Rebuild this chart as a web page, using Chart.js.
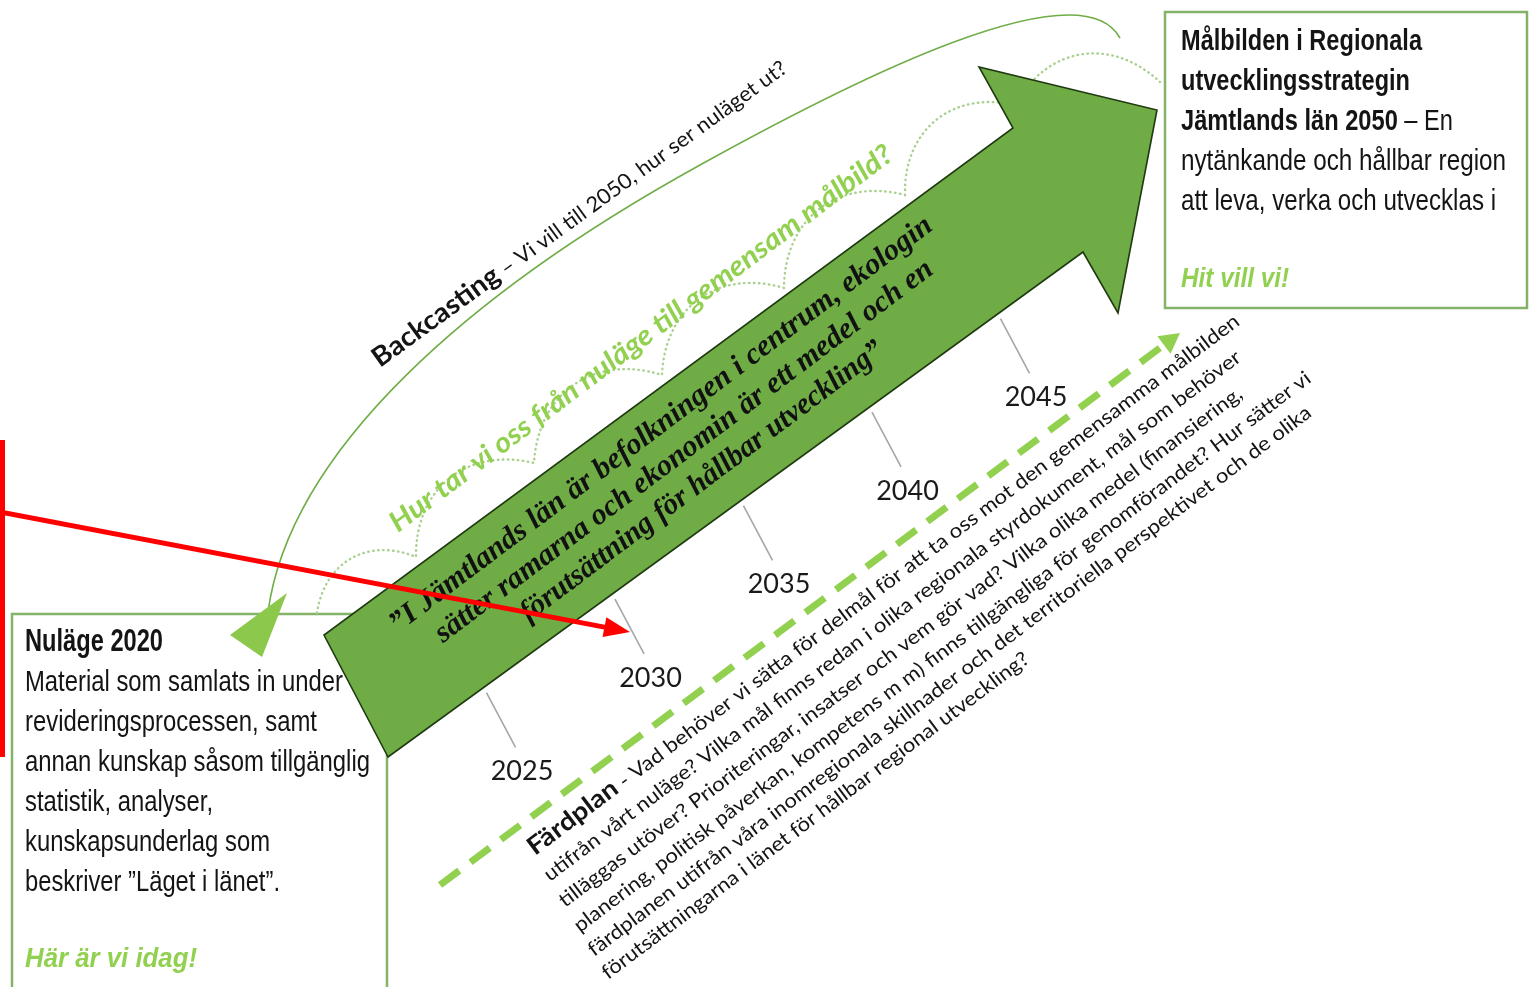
<!DOCTYPE html>
<html lang="sv">
<head>
<meta charset="utf-8">
<title>Backcasting – Färdplan 2050</title>
<script src="https://cdn.jsdelivr.net/npm/chart.js@4.4.0/dist/chart.umd.min.js"></script>
<style>
  html, body { margin: 0; padding: 0; background: #fff; }
  #wrap { width: 1529px; height: 987px; position: relative; }
</style>
</head>
<body>
<div id="wrap"><canvas id="chart"></canvas></div>
<script>
// Tidslinjen
const years = [2025, 2030, 2035, 2040, 2045];
const yearLabels = ['2025', '2030', '2035', '2040', '2045'];

// Rutan nere till vänster
const nulageTitle = 'Nuläge 2020';
const nulageLines = [
  'Material som samlats in under',
  'revideringsprocessen, samt',
  'annan kunskap såsom tillgänglig',
  'statistik, analyser,',
  'kunskapsunderlag som',
  'beskriver ”Läget i länet”.'
];
const nulageFooter = 'Här är vi idag!';

// Rutan uppe till höger
const malbildBold = ['Målbilden i Regionala', 'utvecklingsstrategin', 'Jämtlands län 2050'];
const malbildRest = [' – En', 'nytänkande och hållbar region', 'att leva, verka och utvecklas i'];
const malbildFooter = 'Hit vill vi!';

// Texter längs pilarna
const backcastingBold = 'Backcasting';
const backcastingRest = ' – Vi vill till 2050, hur ser nuläget ut?';
const questionText = 'Hur tar vi oss från nuläge till gemensam målbild?';
const arrowLines = [
  '”I Jämtlands län är befolkningen i centrum, ekologin',
  'sätter ramarna och ekonomin är ett medel och en',
  'förutsättning för hållbar utveckling”'
];
const fardplanBold = 'Färdplan';
const fardplanLines = [
  ' - Vad behöver vi sätta för delmål för att ta oss mot den gemensamma målbilden',
  'utifrån vårt nuläge? Vilka mål finns redan i olika regionala styrdokument, mål som behöver',
  'tilläggas utöver? Prioriteringar, insatser och vem gör vad? Vilka olika medel (finansiering,',
  'planering, politisk påverkan, kompetens m m) finns tillgängliga för genomförandet? Hur sätter vi',
  'färdplanen utifrån våra inomregionala skillnader och det territoriella perspektivet och de olika',
  'förutsättningarna i länet för hållbar regional utveckling?'
];

// Färger
const GREEN = '#6fac46';
const LIGHT = '#92d050';
const BORDER = '#82b366';
const INK = '#141414';

// Layout (pixelrutnät 1529 x 987)
const layout = {
  timeline: { origin: [501, 720], perYear: [25.7, -18.7], labelOffset: [21, 60] },
  arrow: [[388, 757], [324, 635], [1013, 128], [979, 67], [1157, 110], [1118, 313], [1083, 252]],
  leftBox: { x: 12, y: 614, w: 375, h: 400 },
  rightBox: { x: 1165, y: 12, w: 362, h: 296 },
  scallops: [[317, 613], [416, 557], [534, 463], [662, 375], [784, 288], [905, 195], [1015, 105], [1160, 82]],
  dashed: { from: [440, 885], to: [1180, 333] }
};

const SANS = 'Lato, "Open Sans", sans-serif';
const NARROW = '"Liberation Sans Narrow", "Liberation Sans", Arial, sans-serif';
const SERIF = '"Liberation Serif", "Times New Roman", serif';

// Ritar textbitar efter varandra, roterat och anpassat till en given längd
function drawRuns(ctx, runs, x, y, angle, length, align) {
  ctx.save();
  ctx.translate(x, y);
  ctx.rotate(angle * Math.PI / 180);
  let total = 0;
  runs.forEach(r => { ctx.font = r.font; r.w = ctx.measureText(r.text).width; total += r.w; });
  const k = length ? length / total : 1;
  ctx.scale(k, 1);
  let cx = align === 'center' ? -total / 2 : 0;
  ctx.textBaseline = 'alphabetic';
  ctx.textAlign = 'left';
  runs.forEach(r => {
    ctx.font = r.font;
    ctx.fillStyle = r.color || INK;
    ctx.fillText(r.text, cx, 0);
    cx += r.w;
  });
  ctx.restore();
}

function tickPoint(year) {
  const t = layout.timeline;
  const n = year - years[0];
  return { x: t.origin[0] + n * t.perYear[0], y: t.origin[1] + n * t.perYear[1] };
}

const diagramPlugin = {
  id: 'diagram',
  beforeDatasetsDraw(chart) {
    const ctx = chart.ctx;
    const X = v => chart.scales.x.getPixelForValue(v);
    const Y = v => chart.scales.y.getPixelForValue(v);

    ctx.save();
    // Rutor
    ctx.strokeStyle = BORDER;
    ctx.lineWidth = 2.5;
    const lb = layout.leftBox, rb = layout.rightBox;
    ctx.strokeRect(X(lb.x), Y(lb.y), X(lb.x + lb.w) - X(lb.x), Y(lb.y + lb.h) - Y(lb.y));
    ctx.strokeRect(X(rb.x), Y(rb.y), X(rb.x + rb.w) - X(rb.x), Y(rb.y + rb.h) - Y(rb.y));

    // Text i vänstra rutan
    drawRuns(ctx, [{ text: nulageTitle, font: `bold 31px ${NARROW}` }], X(25), Y(651), 0, 138);
    const leftW = [318, 292, 345, 188, 245, 255];
    nulageLines.forEach((line, i) => {
      drawRuns(ctx, [{ text: line, font: `29px ${NARROW}` }], X(25), Y(691 + i * 40), 0, leftW[i]);
    });
    drawRuns(ctx, [{ text: nulageFooter, font: `italic bold 28px ${NARROW}`, color: LIGHT }], X(25), Y(967), 0, 172);

    // Text i högra rutan
    const rightW = [241, 229, 272, 325, 315];
    for (let i = 0; i < 5; i++) {
      const runs = [];
      if (malbildBold[i]) runs.push({ text: malbildBold[i], font: `bold 29px ${NARROW}` });
      if (i >= 2) runs.push({ text: malbildRest[i - 2], font: `29px ${NARROW}` });
      drawRuns(ctx, runs, X(1181), Y(50 + i * 40), 0, rightW[i]);
    }
    drawRuns(ctx, [{ text: malbildFooter, font: `italic bold 28px ${NARROW}`, color: LIGHT }], X(1181), Y(287), 0, 108);

    // Backcasting-bågen
    ctx.strokeStyle = '#70ad47';
    ctx.lineWidth = 1.6;
    ctx.beginPath();
    ctx.moveTo(X(268), Y(612));
    ctx.bezierCurveTo(X(290), Y(450), X(470), Y(292), X(700), Y(165));
    ctx.bezierCurveTo(X(850), Y(82), X(1080), Y(-35), X(1120), Y(38));
    ctx.stroke();
    ctx.fillStyle = '#8cc84b';
    ctx.beginPath();
    ctx.moveTo(X(287), Y(593));
    ctx.lineTo(X(230), Y(635));
    ctx.lineTo(X(262), Y(657));
    ctx.closePath();
    ctx.fill();

    // Prickad våglinje
    ctx.strokeStyle = '#a9d08e';
    ctx.lineWidth = 2.4;
    ctx.lineCap = 'round';
    ctx.setLineDash([0.5, 4.5]);
    ctx.beginPath();
    const sc = layout.scallops;
    ctx.moveTo(X(sc[0][0]), Y(sc[0][1]));
    for (let i = 1; i < sc.length; i++) {
      const a = sc[i - 1], b = sc[i];
      const dx = b[0] - a[0], dy = b[1] - a[1];
      const len = Math.hypot(dx, dy);
      const d = [dx / len, dy / len];
      const nrm = [d[1], -d[0]];
      const h = 0.36 * len, s = 0.28 * len;
      ctx.bezierCurveTo(
        X(a[0] + nrm[0] * h + d[0] * s), Y(a[1] + nrm[1] * h + d[1] * s),
        X(b[0] + nrm[0] * h - d[0] * s), Y(b[1] + nrm[1] * h - d[1] * s),
        X(b[0]), Y(b[1]));
    }
    ctx.stroke();
    ctx.setLineDash([]);

    // Stora pilen
    ctx.fillStyle = GREEN;
    ctx.strokeStyle = '#1f3a10';
    ctx.lineWidth = 1.6;
    ctx.lineJoin = 'miter';
    ctx.beginPath();
    layout.arrow.forEach((p, i) => i ? ctx.lineTo(X(p[0]), Y(p[1])) : ctx.moveTo(X(p[0]), Y(p[1])));
    ctx.closePath();
    ctx.fill();
    ctx.stroke();

    // Citat i pilen
    const centers = [[666, 431], [689, 458], [707, 488]];
    const lens = [672, 616, 447];
    arrowLines.forEach((line, i) => {
      drawRuns(ctx, [{ text: line, font: `italic bold 30px ${SERIF}`, color: '#111' }],
        X(centers[i][0]), Y(centers[i][1]), -37, lens[i], 'center');
    });

    // Frågan ovanför pilen
    drawRuns(ctx, [{ text: questionText, font: `italic bold 28px ${SANS}`, color: LIGHT }], X(398), Y(533), -37, 622);

    // Backcasting
    drawRuns(ctx, [
      { text: backcastingBold, font: `bold 27px ${SANS}` },
      { text: backcastingRest, font: `21px ${SANS}` }
    ], X(380), Y(368), -36, 505);
    ctx.restore();
  },

  afterDatasetsDraw(chart) {
    const ctx = chart.ctx;
    const X = v => chart.scales.x.getPixelForValue(v);
    const Y = v => chart.scales.y.getPixelForValue(v);
    const meta = chart.getDatasetMeta(0);
    const off = layout.timeline.labelOffset;

    ctx.save();
    // Årtal
    ctx.font = `27px ${SANS}`;
    ctx.fillStyle = '#1a1a1a';
    ctx.textAlign = 'center';
    ctx.textBaseline = 'alphabetic';
    meta.data.forEach((el, i) => {
      ctx.fillText(yearLabels[i], el.x + off[0], el.y + off[1]);
    });

    // Streckad pil
    const f = layout.dashed.from, t = layout.dashed.to;
    const x0 = X(f[0]), y0 = Y(f[1]), x1 = X(t[0]), y1 = Y(t[1]);
    const L = Math.hypot(x1 - x0, y1 - y0);
    const ux = (x1 - x0) / L, uy = (y1 - y0) / L;
    const head = 20;
    ctx.strokeStyle = LIGHT;
    ctx.lineWidth = 7;
    ctx.setLineDash([24, 14]);
    ctx.beginPath();
    ctx.moveTo(x0, y0);
    ctx.lineTo(x1 - ux * head, y1 - uy * head);
    ctx.stroke();
    ctx.setLineDash([]);
    ctx.fillStyle = LIGHT;
    ctx.beginPath();
    ctx.moveTo(x1, y1);
    ctx.lineTo(x1 - ux * head - uy * 11, y1 - uy * head + ux * 11);
    ctx.lineTo(x1 - ux * head + uy * 11, y1 - uy * head - ux * 11);
    ctx.closePath();
    ctx.fill();

    // Färdplan
    const starts = [[535, 856], [550, 882], [565, 908], [580, 933], [594, 957], [608, 980]];
    const lens = [884, 867, 850, 917, 900, 529];
    fardplanLines.forEach((line, i) => {
      const runs = [];
      if (i === 0) runs.push({ text: fardplanBold, font: `bold 25px ${SANS}` });
      runs.push({ text: line, font: `20px ${SANS}` });
      drawRuns(ctx, runs, X(starts[i][0]), Y(starts[i][1]), -37, lens[i]);
    });

    // Röd markering
    ctx.fillStyle = '#ff0000';
    ctx.fillRect(X(0), Y(440), X(5) - X(0), Y(757) - Y(440));
    const ax0 = X(0), ay0 = Y(512), ax1 = X(630), ay1 = Y(632);
    const AL = Math.hypot(ax1 - ax0, ay1 - ay0);
    const vx = (ax1 - ax0) / AL, vy = (ay1 - ay0) / AL;
    ctx.strokeStyle = '#ff0000';
    ctx.lineWidth = 5;
    ctx.beginPath();
    ctx.moveTo(ax0, ay0);
    ctx.lineTo(ax1 - vx * 22, ay1 - vy * 22);
    ctx.stroke();
    ctx.beginPath();
    ctx.moveTo(ax1, ay1);
    ctx.lineTo(ax1 - vx * 26 - vy * 10, ay1 - vy * 26 + vx * 10);
    ctx.lineTo(ax1 - vx * 26 + vy * 10, ay1 - vy * 26 - vx * 10);
    ctx.closePath();
    ctx.fill();
    ctx.restore();
  }
};

new Chart(document.getElementById('chart'), {
  type: 'scatter',
  data: {
    datasets: [{
      label: 'Tidslinje',
      data: years.map(tickPoint),
      pointStyle: 'line',
      rotation: 62,
      pointRadius: 31,
      pointHoverRadius: 31,
      borderColor: '#a6a6a6',
      borderWidth: 1.6,
      clip: false
    }]
  },
  options: {
    responsive: true,
    maintainAspectRatio: false,
    animation: false,
    events: [],
    layout: { padding: 0, autoPadding: false },
    plugins: { legend: { display: false }, tooltip: { enabled: false } },
    scales: {
      x: { type: 'linear', min: 0, max: 1529, display: false },
      y: { type: 'linear', min: 0, max: 987, reverse: true, display: false }
    }
  },
  plugins: [diagramPlugin]
});
</script>
</body>
</html>
